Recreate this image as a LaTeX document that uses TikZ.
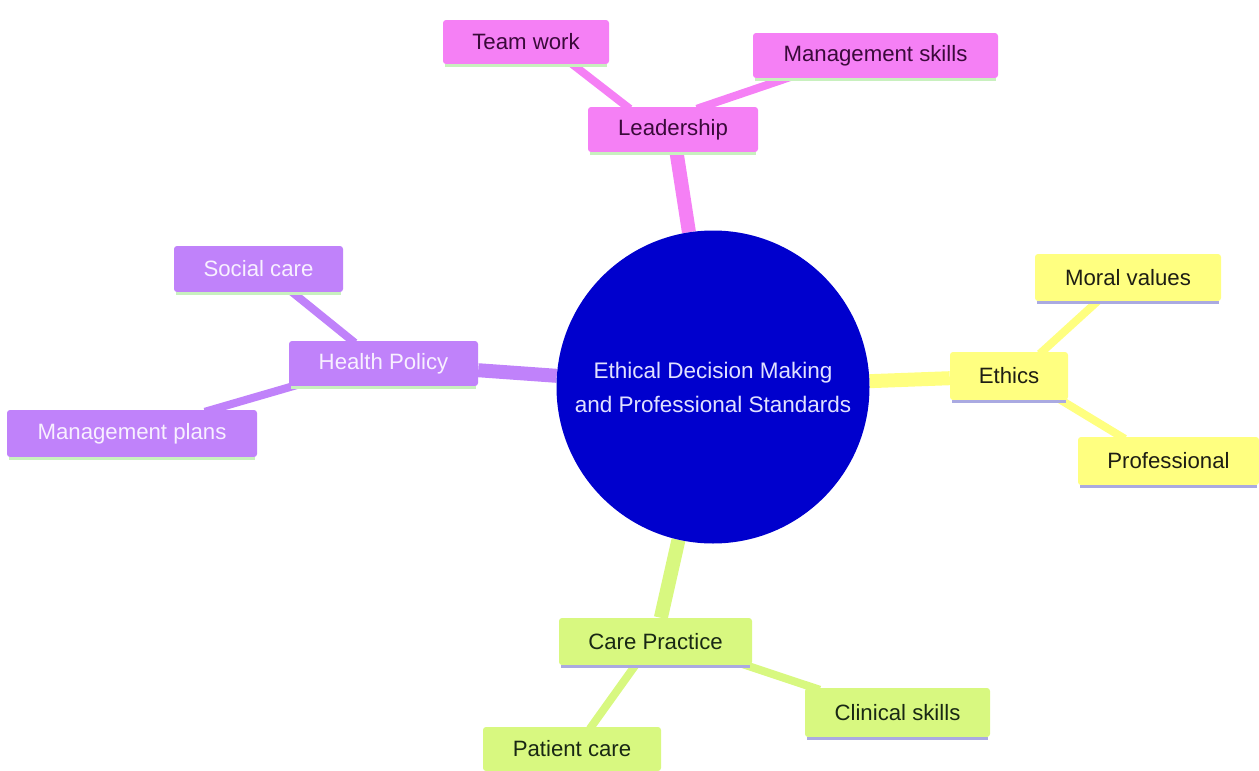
\documentclass[tikz,border=0pt]{standalone}
\usepackage{fontspec}
\setmainfont{Liberation Sans}
\usetikzlibrary{calc}
\pgfdeclarelayer{bg}
\pgfsetlayers{bg,main}
\definecolor{pinkc}{RGB}{245,128,245}
\definecolor{pinkt}{RGB}{58,10,58}
\definecolor{purpc}{RGB}{192,130,250}
\definecolor{purpt}{RGB}{248,240,255}
\definecolor{yelc}{RGB}{255,255,128}
\definecolor{yelt}{RGB}{30,30,20}
\definecolor{grnc}{RGB}{216,248,128}
\definecolor{grnt}{RGB}{25,40,20}
\definecolor{lgrn}{RGB}{200,240,190}
\definecolor{lav}{RGB}{170,170,225}
\definecolor{hub}{RGB}{0,0,205}
\definecolor{hubt}{RGB}{225,225,255}
\newcommand{\boxbase}[2]{\draw[#2, line width=3pt] ([xshift=2pt,yshift=-1.5pt]#1.south west) -- ([xshift=-2pt,yshift=-1.5pt]#1.south east);}
\begin{document}
\begin{tikzpicture}[x=1pt,y=-1pt,
  box/.style={rounded corners=3pt, inner sep=0pt, align=center, font=\fontsize{22.2}{26}\selectfont},
  pinkbox/.style={box, fill=pinkc, text=pinkt},
  purpbox/.style={box, fill=purpc, text=purpt},
  yelbox/.style={box, fill=yelc, text=yelt},
  grnbox/.style={box, fill=grnc, text=grnt},
  mainlink/.style={line width=14pt},
  sublink/.style={line width=8pt}]
\useasboundingbox (0,0) rectangle (1259,771);

\node[circle, fill=hub, minimum size=313pt, inner sep=0pt, text=hubt, align=center,
  font=\fontsize{22.5}{34}\selectfont] (c) at (713,387)
  {Ethical Decision Making\\and Professional Standards};

% Leadership branch
\node[pinkbox, minimum width=170pt, minimum height=45pt] (lead) at (673,129.5) {Leadership};
\node[pinkbox, minimum width=166pt, minimum height=44pt] (tw) at (526,42) {Team work};
\node[pinkbox, minimum width=245pt, minimum height=45pt] (ms) at (875.5,55.5) {Management skills};
% Ethics branch
\node[yelbox, minimum width=118pt, minimum height=48pt] (eth) at (1009,376) {Ethics};
\node[yelbox, minimum width=186pt, minimum height=47pt] (mv) at (1128,277.5) {Moral values};
\node[yelbox, minimum width=181pt, minimum height=48pt] (prof) at (1168.5,461) {Professional};
% Health Policy branch
\node[purpbox, minimum width=189pt, minimum height=45pt] (hp) at (383.5,363.5) {Health Policy};
\node[purpbox, minimum width=169pt, minimum height=46pt] (sc) at (258.5,269) {Social care};
\node[purpbox, minimum width=250pt, minimum height=47pt] (mp) at (132,433.5) {Management plans};
% Care Practice branch
\node[grnbox, minimum width=193pt, minimum height=47pt] (cp) at (655.5,641.5) {Care Practice};
\node[grnbox, minimum width=185pt, minimum height=49pt] (cs) at (897.5,712.5) {Clinical skills};
\node[grnbox, minimum width=178pt, minimum height=44pt] (pc) at (572,749) {Patient care};

\boxbase{lead}{lgrn}\boxbase{tw}{lgrn}\boxbase{ms}{lgrn}
\boxbase{eth}{lav}\boxbase{mv}{lav}\boxbase{prof}{lav}
\boxbase{hp}{lgrn}\boxbase{sc}{lgrn}\boxbase{mp}{lgrn}
\boxbase{cp}{lav}\boxbase{cs}{lav}\boxbase{pc}{lav}

\begin{pgfonlayer}{bg}
\draw[mainlink, pinkc] (c) -- (lead);
\draw[mainlink, yelc] (c) -- (eth);
\draw[mainlink, purpc] (c) -- (hp);
\draw[mainlink, grnc] (c) -- (cp);

\draw[sublink, pinkc] ($(lead.north west)+(42,2)$) -- ($(tw.south west)+(127,-2)$);
\draw[sublink, pinkc] ($(lead.north west)+(109,2)$) -- ($(ms.south west)+(40,-2)$);
\draw[sublink, yelc] ($(eth.north west)+(90,2)$) -- ($(mv.south west)+(65,-2)$);
\draw[sublink, yelc] ($(eth.south west)+(108,-2)$) -- ($(prof.north west)+(47,2)$);
\draw[sublink, purpc] ($(hp.north west)+(66,2)$) -- ($(sc.south west)+(116,-2)$);
\draw[sublink, purpc] ($(hp.south west)+(11,-2)$) -- ($(mp.north west)+(198,2)$);
\draw[sublink, grnc] ($(cp.south west)+(181,-2)$) -- ($(cs.north west)+(15,2)$);
\draw[sublink, grnc] ($(cp.south west)+(78,-2)$) -- ($(pc.north west)+(107,2)$);
\end{pgfonlayer}
\end{tikzpicture}
\end{document}
